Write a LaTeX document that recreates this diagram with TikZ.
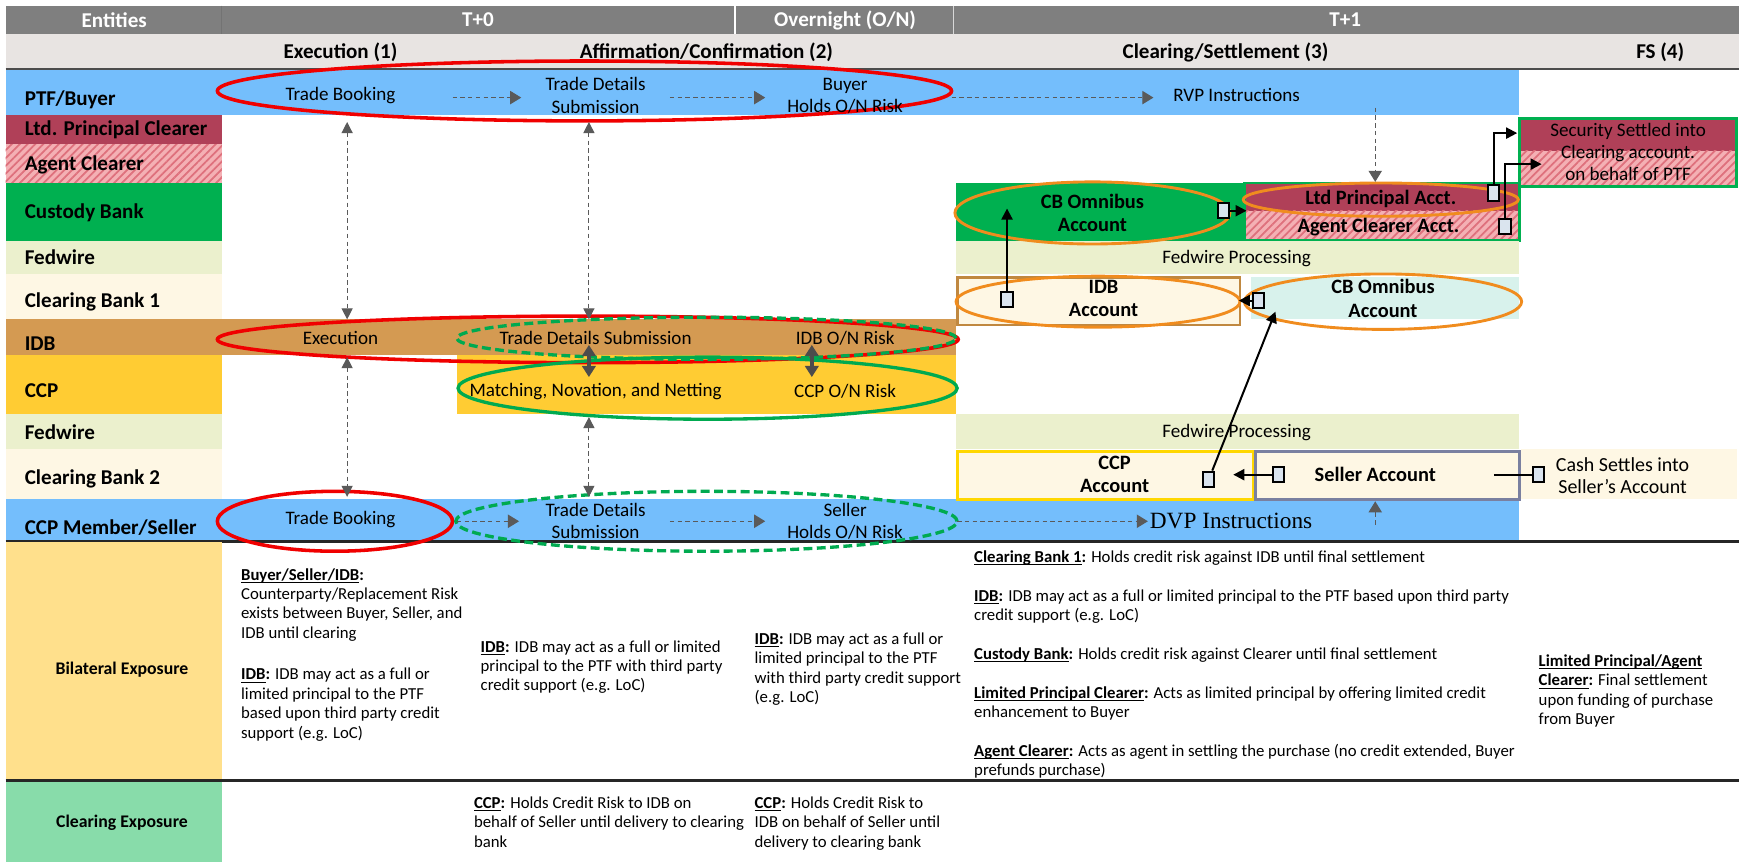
\documentclass[tikz,border=0pt]{standalone}
\usepackage{fontspec}
\setmainfont{Carlito}
\newfontfamily\dvpfont{Liberation Serif}
\usetikzlibrary{shapes.geometric,arrows.meta,patterns.meta}
\newsavebox\ulbox
\newcommand\undl[1]{\sbox\ulbox{#1}\rlap{\rule[-1.2pt]{\wd\ulbox}{0.45pt}}\usebox\ulbox}
\definecolor{hdr}{RGB}{127,127,127}
\definecolor{hdrtwo}{RGB}{232,228,226}
\definecolor{bluerow}{RGB}{116,190,252}
\definecolor{ltdmaroon}{RGB}{176,64,88}
\definecolor{pinkbase}{RGB}{244,176,180}
\definecolor{pinkline}{RGB}{222,112,124}
\definecolor{custgreen}{RGB}{0,176,80}
\definecolor{fedlight}{RGB}{235,240,205}
\definecolor{cream}{RGB}{254,247,228}
\definecolor{idbbrown}{RGB}{212,154,82}
\definecolor{ccpyellow}{RGB}{255,204,51}
\definecolor{bilat}{RGB}{255,224,140}
\definecolor{clrgreen}{RGB}{136,220,170}
\definecolor{lightcyan}{RGB}{216,242,236}
\definecolor{ovalorange}{RGB}{240,140,30}
\definecolor{idbborder}{RGB}{192,136,64}
\definecolor{ccpborder}{RGB}{255,215,0}
\definecolor{sellborder}{RGB}{122,128,160}
\definecolor{sqfill}{RGB}{218,228,238}
\definecolor{arrgray}{RGB}{90,90,90}
\definecolor{ovalred}{RGB}{240,0,0}
\definecolor{ovalgreen}{RGB}{0,170,80}
\begin{document}
\begin{tikzpicture}[x=0.5pt,y=-0.5pt,
  hatch/.style={fill=pinkbase, postaction={pattern={Lines[angle=45,distance=2.5pt,line width=0.8pt]}, pattern color=pinkline}},
  lbl/.style={font=\bfseries\fontsize{9.5}{11}\selectfont, anchor=west, inner sep=0},
  hdrtxt/.style={font=\bfseries\fontsize{9.5}{11}\selectfont, text=white, inner sep=0},
  subtxt/.style={font=\bfseries\fontsize{9.5}{11}\selectfont, inner sep=0},
  body/.style={font=\fontsize{8.6}{10}\selectfont, align=center, inner sep=0},
  acct/.style={font=\bfseries\fontsize{9.2}{10.5}\selectfont, align=center, inner sep=0},
  note/.style={font=\fontsize{7.55}{8.75}\selectfont, align=left, anchor=north west, inner sep=0},
  oval/.style={ellipse, inner sep=0, fill=none},
  redoval/.style={oval, draw=ovalred, line width=1.6pt},
  greenoval/.style={oval, draw=ovalgreen, line width=1.5pt},
  greendash/.style={greenoval, dash pattern=on 4pt off 2pt},
  orangeoval/.style={oval, draw=ovalorange, line width=1.3pt},
  flow/.style={draw=arrgray, dash pattern=on 2pt off 1.5pt, line width=0.5pt, -{Triangle[length=5pt,width=6pt]}},
  vflow/.style={draw=arrgray, dash pattern=on 2pt off 1.5pt, line width=0.5pt, {Triangle[length=5pt,width=5pt]}-{Triangle[length=5pt,width=5pt]}},
  thickarr/.style={draw=black!70, line width=1.6pt, {Triangle[length=5pt,width=6pt]}-{Triangle[length=5pt,width=6pt]}},
  sq/.style={rectangle, draw=black, line width=0.9pt, fill=sqfill, minimum width=5pt, minimum height=6.8pt, inner sep=0},
  conn/.style={draw=black, line width=0.9pt, -{Triangle[length=5pt,width=5pt]}}
]
\useasboundingbox (0,0) rectangle (1568,777);
% header rows
\fill[hdr] (5,5) rectangle (1568,31);
\draw[white, line width=0.8pt] (663,5) -- (663,31);
\draw[white!70!hdr, line width=0.6pt] (860,5) -- (860,31);
\draw[black!55, line width=0.4pt] (200,5) -- (200,31);
\fill[hdrtwo] (5,31) rectangle (1568,62);
\draw[black!70, line width=1pt] (5,62) -- (1568,62);
% row bands
\fill[bluerow] (5,63) rectangle (1370,104);
\fill[ltdmaroon] (5,104) rectangle (200,130);
\fill[hatch] (5,130) rectangle (200,165);
\fill[custgreen] (5,165) rectangle (200,217);
\fill[fedlight] (5,217) rectangle (200,247);
\fill[cream] (5,247) rectangle (200,288);
\fill[idbbrown] (5,288) rectangle (862,320);
\fill[ccpyellow] (5,320) rectangle (200,373);
\fill[ccpyellow] (412,320) rectangle (862,373);
\fill[fedlight] (5,373) rectangle (200,405);
\fill[cream] (5,405) rectangle (200,450);
\fill[bluerow] (5,450) rectangle (1370,487);
\draw[black!85, line width=1.2pt] (5,488) -- (1568,488);
\fill[bilat] (5,489) rectangle (200,703);
\draw[black!85, line width=1.2pt] (5,704) -- (1568,704);
\fill[clrgreen] (5,705) rectangle (200,777);
% T+1 blocks
\fill[custgreen] (862,165) rectangle (1122,217);
\fill[ltdmaroon] (1122,165) rectangle (1370,190);
\fill[hatch] (1122,190) rectangle (1370,217);
\draw[custgreen, line width=1.2pt] (1122,165) rectangle (1370,217);
\fill[fedlight] (862,217) rectangle (1370,247);
\filldraw[fill=cream, draw=idbborder, line width=1.3pt] (863,250) rectangle (1118,293);
\fill[lightcyan] (1128,250) rectangle (1370,288);
\fill[fedlight] (862,373) rectangle (1370,405);
\filldraw[fill=cream, draw=ccpborder, line width=1.3pt] (863,407) rectangle (1130,450);
\filldraw[fill=cream, draw=sellborder, line width=1.3pt] (1132,407) rectangle (1370,450);
\fill[cream] (1371,405) rectangle (1566,450);
\fill[ltdmaroon] (1370,107) rectangle (1566,136);
\fill[hatch] (1370,136) rectangle (1566,168);
\draw[custgreen, line width=1.3pt] (1370,107) rectangle (1566,168);
% header texts
\node[hdrtxt] (hEnt) at (103,18) {Entities};
\node[hdrtxt] (hT0) at (431,18) {T+0};
\node[hdrtxt] (hON) at (762,18) {Overnight (O/N)};
\node[hdrtxt] (hT1) at (1213,18) {T+1};
\node[subtxt] (sEx) at (307,47) {Execution (1)};
\node[subtxt] (sAff) at (637,47) {Affirmation/Confirmation (2)};
\node[subtxt] (sClr) at (1105,47) {Clearing/Settlement (3)};
\node[subtxt] (sFS) at (1497,47) {FS (4)};
% row labels
\node[lbl] (rPTF) at (22,90) {PTF/Buyer};
\node[lbl] (rLtd) at (22,117) {Ltd. Principal Clearer};
\node[lbl] (rAg) at (22,149) {Agent Clearer};
\node[lbl] (rCust) at (22,192) {Custody Bank};
\node[lbl] (rFedA) at (22,232) {Fedwire};
\node[lbl] (rCBA) at (22,272) {Clearing Bank 1};
\node[lbl] (rIDB) at (22,310) {IDB};
\node[lbl] (rCCP) at (22,352) {CCP};
\node[lbl] (rFedB) at (22,390) {Fedwire};
\node[lbl] (rCBB) at (22,432) {Clearing Bank 2};
\node[lbl] (rSel) at (22,476) {CCP Member/Seller};
\node[font=\bfseries\fontsize{8}{9}\selectfont] (rBil) at (110,604) {Bilateral Exposure};
\node[font=\bfseries\fontsize{8}{9}\selectfont] (rClr) at (110,742) {Clearing Exposure};
% ovals
\node[redoval, minimum width=331pt, minimum height=27pt] (ePTF) at (527,82) {};
\node[redoval, minimum width=334pt, minimum height=21pt] (eIDB) at (530,306) {};
\node[greendash, minimum width=225pt, minimum height=19pt] (eIDBg) at (637,305) {};
\node[greenoval, minimum width=225pt, minimum height=28pt] (eCCP) at (638,350) {};
\node[redoval, minimum width=106pt, minimum height=27pt] (eSelR) at (302,470) {};
\node[greendash, minimum width=226pt, minimum height=27pt] (eSelG) at (637,470) {};
\node[orangeoval, minimum width=124pt, minimum height=28pt] (eCBO) at (985,192) {};
\node[orangeoval, minimum width=124pt, minimum height=15pt] (eLtd) at (1245,180) {};
\node[orangeoval, minimum width=128pt, minimum height=23pt] (eIDBA) at (990,272) {};
\node[orangeoval, minimum width=125pt, minimum height=25pt] (eCBOB) at (1247,272) {};
% T+0 texts
\node[body] (tBookA) at (307,86) {Trade Booking};
\node[body] (tTDSA) at (537,86) {Trade Details\\Submission};
\node[body] (tBuyer) at (762,86) {Buyer\\Holds O/N Risk};
\node[body] (tRVP) at (1115,86) {RVP Instructions};
\node[body] (tExec) at (307,305) {Execution};
\node[body] (tTDSB) at (537,305) {Trade Details Submission};
\node[body] (tIDBon) at (762,305) {IDB O/N Risk};
\node[body] (tMNN) at (537,353) {Matching, Novation, and Netting};
\node[body] (tCCPon) at (762,353) {CCP O/N Risk};
\node[body] (tBookB) at (307,468) {Trade Booking};
\node[body] (tTDSC) at (537,470) {Trade Details\\Submission};
\node[body] (tSeller) at (762,470) {Seller\\Holds O/N Risk};
\node[inner sep=0, font=\dvpfont\fontsize{10.5}{12}\selectfont] (tDVP) at (1110,470) {DVP Instructions};
% flow arrows
\coordinate (fAa) at (408,88); \coordinate (fAb) at (470,88);
\coordinate (fBa) at (604,88); \coordinate (fBb) at (690,88);
\coordinate (fCa) at (858,88); \coordinate (fCb) at (1040,88);
\coordinate (fDa) at (412,470); \coordinate (fDb) at (468,470);
\coordinate (fEa) at (604,470); \coordinate (fEb) at (690,470);
\coordinate (fFa) at (863,470); \coordinate (fFb) at (1035,470);
\draw[flow] (fAa) -- (fAb);
\draw[flow] (fBa) -- (fBb);
\draw[flow] (fCa) -- (fCb);
\draw[flow] (fDa) -- (fDb);
\draw[flow] (fEa) -- (fEb);
\draw[flow] (fFa) -- (fFb);
% vertical dashed double arrows
\coordinate (vAa) at (313,110); \coordinate (vAb) at (313,288);
\coordinate (vBa) at (531,110); \coordinate (vBb) at (531,288);
\coordinate (vCa) at (313,322); \coordinate (vCb) at (313,448);
\coordinate (vDa) at (531,376); \coordinate (vDb) at (531,448);
\draw[vflow] (vAa) -- (vAb);
\draw[vflow] (vBa) -- (vBb);
\draw[vflow] (vCa) -- (vCb);
\draw[vflow] (vDa) -- (vDb);
\coordinate (kAa) at (531,311); \coordinate (kAb) at (531,340);
\coordinate (kBa) at (732,311); \coordinate (kBb) at (732,340);
\draw[thickarr] (kAa) -- (kAb);
\draw[thickarr] (kBa) -- (kBb);
% T+1 texts
\node[acct] (aCBO) at (985,192) {CB Omnibus\\Account};
\node[acct] (aLtd) at (1245,179) {Ltd Principal Acct.};
\node[acct] (aAg) at (1243,205) {Agent Clearer Acct.};
\node[body] (tFedA) at (1115,233) {Fedwire Processing};
\node[acct] (aIDB) at (995,269) {IDB\\Account};
\node[acct] (aCBOB) at (1247,269) {CB Omnibus\\Account};
\node[body] (tFedB) at (1115,390) {Fedwire Processing};
\node[acct] (aCCP) at (1005,428) {CCP\\Account};
\node[acct] (aSel) at (1240,428) {Seller Account};
\node[body, font=\fontsize{9}{10}\selectfont] (tCash) at (1463,429) {Cash Settles into\\Seller's Account};
\node[body] (tSec) at (1468,137) {Security Settled into\\Clearing account.\\on behalf of PTF};
% squares and connectors
\node[sq] (qA) at (908,270) {};
\node[sq] (qB) at (1135,271) {};
\node[sq] (qC) at (1103,190) {};
\node[sq] (qD) at (1347,174) {};
\node[sq] (qE) at (1357,204) {};
\node[sq] (qF) at (1090,432) {};
\node[sq] (qG) at (1153,428) {};
\node[sq] (qH) at (1387,428) {};
\coordinate (cA) at (908,188);
\coordinate (cB) at (1117,271);
\coordinate (cC) at (1124,190);
\coordinate (cD) at (1368,120);
\coordinate (cE) at (1390,148);
\coordinate (cF) at (1150,281);
\coordinate (cG) at (1112,428);
\coordinate (cH) at (1347,428);
\draw[conn] (qA) -- (cA);
\draw[conn] (qB) -- (cB);
\draw[conn] (qC) -- (cC);
\draw[conn] (qD.north) |- (cD);
\draw[conn] (qE.north) |- (cE);
\draw[conn] (qF) -- (cF);
\draw[conn] (qG) -- (cG);
\draw[black, line width=0.9pt] (cH) -- (qH);
\coordinate (dAa) at (1240,97); \coordinate (dAb) at (1240,164);
\coordinate (dBa) at (1240,473); \coordinate (dBb) at (1240,452);
\draw[flow] (dAa) -- (dAb);
\draw[flow] (dBa) -- (dBb);
% notes
\node[note] (nA) at (217,512) {\undl{\textbf{Buyer/Seller/IDB}}\textbf{:}\\Counterparty/Replacement Risk\\exists between Buyer, Seller, and\\IDB until clearing\\[10pt]\undl{\textbf{IDB}}\textbf{:} IDB may act as a full or\\limited principal to the PTF\\based upon third party credit\\support (e.g. LoC)};
\node[note] (nB) at (433,577) {\undl{\textbf{IDB}}\textbf{:} IDB may act as a full or limited\\principal to the PTF with third party\\credit support (e.g. LoC)};
\node[note] (nC) at (680,570) {\undl{\textbf{IDB}}\textbf{:} IDB may act as a full or\\limited principal to the PTF\\with third party credit support\\(e.g. LoC)};
\node[note] (nD) at (878,496) {\undl{\textbf{Clearing Bank 1}}\textbf{:} Holds credit risk against IDB until final settlement\\[8.75pt]\undl{\textbf{IDB}}\textbf{:} IDB may act as a full or limited principal to the PTF based upon third party\\credit support (e.g. LoC)\\[8.75pt]\undl{\textbf{Custody Bank}}\textbf{:} Holds credit risk against Clearer until final settlement\\[8.75pt]\undl{\textbf{Limited Principal Clearer}}\textbf{:} Acts as limited principal by offering limited credit\\enhancement to Buyer\\[8.75pt]\undl{\textbf{Agent Clearer}}\textbf{:} Acts as agent in settling the purchase (no credit extended, Buyer\\prefunds purchase)};
\node[note] (nE) at (1387,590) {\undl{\textbf{Limited Principal/Agent}}\\\undl{\textbf{Clearer}}\textbf{:} Final settlement\\upon funding of purchase\\from Buyer};
\node[note] (nF) at (427,718) {\undl{\textbf{CCP}}\textbf{:} Holds Credit Risk to IDB on\\behalf of Seller until delivery to clearing\\bank};
\node[note] (nG) at (680,718) {\undl{\textbf{CCP}}\textbf{:} Holds Credit Risk to\\IDB on behalf of Seller until\\delivery to clearing bank};
\end{tikzpicture}
\end{document}
